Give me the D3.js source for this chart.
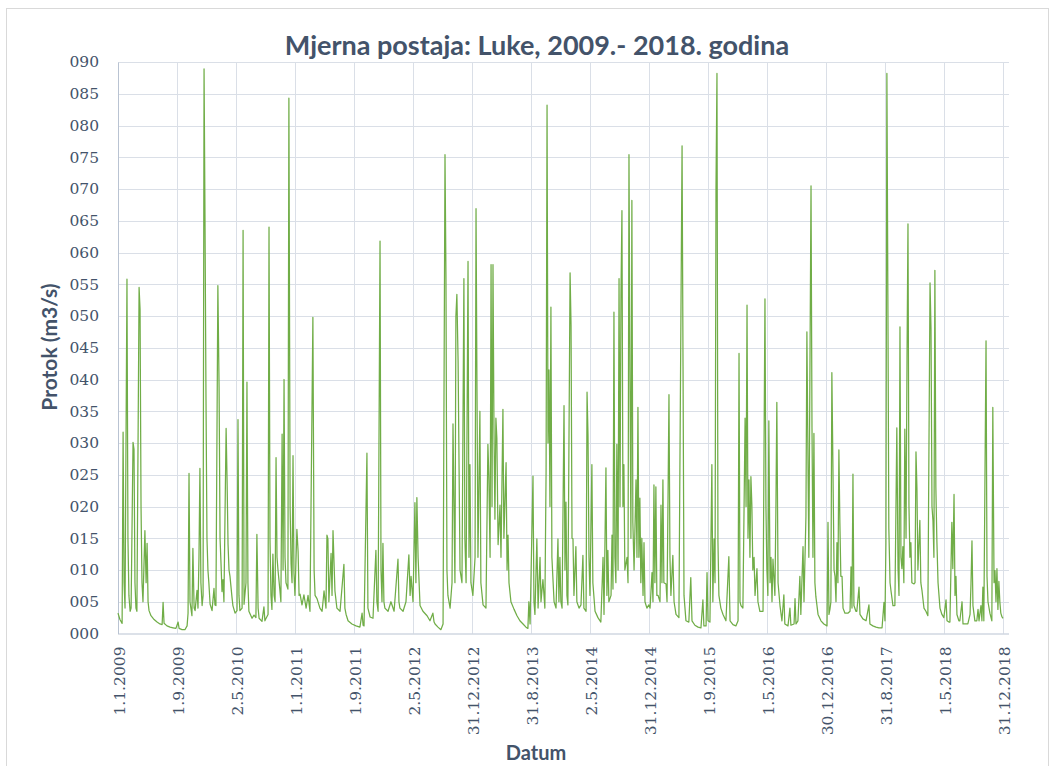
<!DOCTYPE html>
<html><head><meta charset="utf-8">
<script src="https://cdn.jsdelivr.net/npm/d3@7"></script>
<style>
html,body{margin:0;padding:0;background:#fff;}
svg{display:block;}
</style></head><body>
<svg id="chart" width="1055" height="766"></svg>
<script>
// ---- data: [day offset from 1.1.2009, flow m3/s] ----
const startDate = "2009-01-01";
const flow2009 = [[0,3.2],[8,2.2],[17,1.6],[21,31.7],[25,8],[29,4],[37,55.8],[41,15],[45,6],[50,3.5],[54,4],[62,30.1],[66,29],[70,8],[74,4],[78,3.5],[87,54.5],[91,51],[95,20],[99,8],[103,5],[111,16.2],[116,8],[120,14.2],[124,5],[128,3.6],[136,2.8],[149,2.2],[161,1.8],[173,1.5],[182,1.4],[186,4.9],[190,1.6],[202,1.2],[215,1.0],[227,0.9],[239,0.8],[248,1.8],[252,0.8],[264,0.6],[276,0.6],[285,1.2],[289,3.2],[293,25.2],[297,5],[305,2.8],[309,13.4],[314,4],[318,3.6],[326,6.8],[330,4],[334,11.8],[338,26],[342,8],[347,4.4],[351,6],[355,88.9],[359,64.6],[363,37]];
const flow2010 = [[367,15],[371,10],[375,7.9],[380,4.6],[388,3.6],[396,7.1],[400,4.5],[404,4.4],[412,54.8],[417,38.8],[421,15],[425,11],[429,6.6],[433,8.5],[437,5],[446,32.3],[450,24],[454,14],[458,10],[462,9],[470,5.8],[474,4.4],[483,3.2],[491,3.6],[495,33.7],[499,6],[503,3.6],[512,4],[516,63.5],[520,4.6],[528,8],[532,39.6],[536,8],[540,3.5],[553,2.4],[561,2.9],[569,2.5],[573,15.6],[578,4],[582,2.4],[594,1.9],[602,4.2],[606,2],[611,2.4],[619,3],[623,64],[627,15],[631,6],[635,3.8],[639,12.5],[644,6],[648,5],[652,27.7],[656,12],[660,10],[668,6.8],[672,5],[677,31.4],[681,10],[685,40],[689,12],[693,8],[701,7],[705,84.3],[710,20],[714,11],[718,8],[722,28],[726,9.5]];
const flow2011 = [[730,6],[738,16.4],[743,12.9],[747,6],[751,6.2],[759,4.5],[767,6.1],[776,4],[784,6],[792,3.5],[804,49.8],[809,10],[813,6],[821,5.5],[833,4],[842,3.5],[850,6.7],[858,4],[862,15.5],[866,14.9],[870,5],[879,12.6],[883,6],[887,16.2],[895,6.7],[903,4],[916,3.5],[932,10.9],[936,4],[941,3],[949,2],[965,1.5],[982,1.2],[998,1.0],[1007,3.2],[1011,1.3],[1015,1.2],[1027,28.4],[1031,4],[1040,2.6],[1052,2.4],[1064,13.1],[1068,5],[1073,3.5],[1081,61.8],[1085,10],[1089,5],[1093,14.2]];
const flow2012 = [[1097,5],[1101,4],[1114,3.5],[1126,5],[1139,3.5],[1155,11.7],[1159,5],[1163,4],[1176,3.5],[1188,5],[1200,12.4],[1205,6],[1209,9],[1217,5],[1225,20.6],[1229,8],[1233,21.4],[1238,12],[1246,4.4],[1258,3.5],[1275,2.8],[1287,2],[1299,3.2],[1304,1.8],[1308,1.5],[1320,1],[1332,0.6],[1341,1.5],[1349,75.4],[1353,56],[1357,10],[1361,6],[1370,4],[1378,8],[1382,33],[1386,20],[1390,8],[1394,50],[1398,53.4],[1403,43],[1407,26.3],[1411,10],[1419,8],[1427,55.9],[1431,15],[1436,8],[1444,58.6],[1448,12],[1452,26.6],[1456,8]];
const flow2013 = [[1464,6],[1473,12],[1477,66.9],[1481,38],[1485,12],[1493,35],[1497,8],[1506,4.5],[1518,4],[1526,29.8],[1530,24.6],[1535,12],[1539,58.1],[1543,20],[1547,58.1],[1551,32.4],[1555,18],[1559,33.9],[1563,30.7],[1568,14],[1576,20.2],[1580,12],[1588,35.3],[1592,15],[1601,26.9],[1605,10],[1609,15.5],[1613,8],[1621,5],[1634,3.8],[1646,2.8],[1658,2],[1671,1.5],[1683,1],[1691,0.8],[1695,5],[1700,1.5],[1712,24.8],[1716,5],[1720,3],[1728,14.9],[1733,4],[1741,12],[1745,5],[1753,8.5],[1761,4],[1766,25.4],[1770,83.2],[1774,30],[1778,41.5],[1782,20],[1786,51.4],[1790,12],[1799,5],[1807,4],[1815,14.9],[1819,5],[1823,12]];
const flow2014 = [[1827,5],[1832,4],[1840,35.9],[1844,10],[1848,20.7],[1852,6],[1856,4.5],[1865,56.8],[1869,48.5],[1873,15],[1877,14.9],[1881,6],[1889,13.7],[1893,5],[1902,4],[1910,4.5],[1918,12.3],[1922,4],[1931,3.5],[1935,38],[1939,31.2],[1943,12],[1947,6],[1955,26.6],[1959,8],[1968,3.5],[1980,2.5],[1992,1.8],[2001,12],[2005,3],[2013,26.1],[2017,6],[2021,13.1],[2025,5],[2034,6],[2038,15.5],[2042,7],[2046,50.6],[2050,12],[2054,8],[2058,29.8],[2063,10],[2067,55.9],[2071,20],[2075,53.4],[2079,66.6],[2083,20],[2087,26.6],[2091,10],[2100,12],[2104,8],[2108,75.4],[2112,41.5],[2116,15],[2120,68.2],[2124,17.5],[2129,10],[2137,24.2],[2141,12],[2145,35.6],[2149,12],[2153,21.3],[2157,8],[2161,15],[2166,6],[2170,14.3],[2174,5],[2182,4],[2190,4.5]];
const flow2015 = [[2195,4],[2203,9.6],[2207,5],[2211,23.4],[2215,8],[2219,23.1],[2223,6],[2228,6],[2236,5],[2240,20.2],[2244,8],[2248,24.2],[2252,8],[2261,7.8],[2265,5],[2269,21],[2273,37.6],[2277,12],[2281,6],[2289,12.3],[2294,5],[2302,3],[2314,2.5],[2327,76.8],[2331,42],[2335,6],[2343,2],[2355,1.8],[2363,8.8],[2368,2],[2380,1.3],[2393,1.0],[2405,0.9],[2413,5.3],[2417,1.2],[2426,1.2],[2430,9.6],[2434,2],[2442,1.8],[2450,26.6],[2454,5],[2459,14.9],[2463,8],[2467,70.1],[2471,88.2],[2475,14.6],[2479,6],[2487,4],[2496,3],[2508,2],[2520,12.1],[2525,2],[2537,1.4],[2549,1.2]];
const flow2016 = [[2558,2],[2562,44.1],[2566,5],[2570,4.4],[2578,4],[2587,33.9],[2591,20],[2595,51.7],[2599,15],[2603,24.2],[2607,12],[2611,24.7],[2615,20.2],[2619,10],[2624,12],[2628,6],[2636,10.2],[2640,5],[2648,3.5],[2661,3.5],[2669,52.7],[2673,20],[2677,10],[2681,6],[2685,33.5],[2690,8],[2694,12],[2698,5],[2702,11.7],[2710,6],[2714,19.1],[2718,36.4],[2723,8],[2731,4.4],[2739,2],[2747,6.1],[2751,1.5],[2764,1.2],[2772,4],[2776,1.3],[2789,1.5],[2793,5.5],[2797,1.5],[2805,2],[2813,9],[2817,3],[2826,13.7],[2830,5],[2838,18.4],[2842,47.5],[2846,29.2],[2850,12],[2859,70.5],[2863,32.4],[2867,12],[2871,31.5],[2875,8],[2879,5.8],[2888,3],[2900,2],[2912,1.5]];
const flow2017 = [[2925,1.2],[2929,17.5],[2933,3],[2937,3.8],[2941,5],[2945,41.1],[2949,27.5],[2954,10],[2958,9],[2962,5],[2966,14.3],[2970,8],[2974,28.9],[2978,17.5],[2982,9],[2987,9],[2991,4],[2999,3.2],[3011,3.2],[3020,3.5],[3024,10.5],[3028,4],[3032,25.1],[3036,4.4],[3044,3.5],[3048,3.5],[3057,7.3],[3061,3],[3073,2.3],[3086,2],[3098,4.5],[3102,1.5],[3114,1.2],[3127,1.0],[3139,0.9],[3152,0.9],[3160,4.9],[3164,2],[3168,14.3],[3172,88.2],[3176,53.4],[3180,16.6],[3185,8],[3189,6.7],[3197,4.4],[3205,4.4],[3213,32.4],[3218,10.2],[3222,6],[3226,48.3],[3230,12],[3234,10.2],[3238,13.7],[3242,8],[3246,32.2],[3251,15],[3255,43.2],[3259,64.5],[3263,20.2],[3267,12],[3271,14.3],[3275,8],[3284,7.8]];
const flow2018 = [[3288,8],[3292,28.6],[3296,22.8],[3300,10],[3308,17.8],[3312,8],[3317,6.7],[3325,4],[3333,3.5],[3341,2.8],[3350,55.2],[3354,47.9],[3358,20],[3362,17.8],[3366,12],[3370,57.2],[3374,23.1],[3378,14.9],[3383,8],[3391,4],[3399,3],[3407,2.5],[3416,5.3],[3420,2],[3428,1.8],[3432,1.8],[3440,17.5],[3444,10.2],[3449,21.9],[3453,6],[3457,9],[3461,3],[3469,2],[3473,2],[3482,5],[3486,1.5],[3498,1.5],[3506,1.5],[3515,3],[3519,7.9],[3523,14.6],[3527,4.4],[3535,2],[3543,2],[3548,3.8],[3552,2],[3560,4.4],[3564,2],[3568,7.3],[3572,2],[3581,46.1],[3585,9],[3589,5],[3597,3.2],[3605,2],[3609,35.6],[3614,8],[3618,9.9],[3622,5],[3626,10.2],[3630,3.8],[3634,8.2],[3638,5],[3642,3.2],[3647,2.6],[3651,2.4]];

const tickDates  = ["2009-01-01","2009-09-01","2010-05-02","2011-01-01","2011-09-01","2012-05-02","2012-12-31","2013-08-31","2014-05-02","2014-12-31","2015-09-01","2016-05-01","2016-12-30","2017-08-31","2018-05-01","2018-12-31"];
const tickLabels = ["1.1.2009","1.9.2009","2.5.2010","1.1.2011","1.9.2011","2.5.2012","31.12.2012","31.8.2013","2.5.2014","31.12.2014","1.9.2015","1.5.2016","30.12.2016","31.8.2017","1.5.2018","31.12.2018"];
const yTickValues = [0,5,10,15,20,25,30,35,40,45,50,55,60,65,70,75,80,85,90];

const titleText = "Mjerna postaja: Luke, 2009.- 2018. godina";
const yTitle = "Protok (m3/s)";
const xTitle = "Datum";

// ---- drawing ----
const parse = d3.utcParse("%Y-%m-%d");
const t0 = parse(startDate);
const series = [].concat(flow2009, flow2010, flow2011, flow2012, flow2013, flow2014, flow2015, flow2016, flow2017, flow2018)
  .map(([d, v]) => ({date: d3.utcDay.offset(t0, d), value: v}));

const plot = {left: 118, right: 1003, top: 62, bottom: 633.5, gridRight: 1009};
const x = d3.scaleUtc().domain([t0, parse("2018-12-31")]).range([plot.left, plot.right]);
const y = d3.scaleLinear().domain([0, 90]).range([plot.bottom, plot.top]);

const textCol = "#43536a";
const gridCol = "#dadfe7";
const svg = d3.select("#chart");

svg.append("rect").attr("x", 6.5).attr("y", 8.5).attr("width", 1042).attr("height", 780)
  .attr("fill", "#fff").attr("stroke", "#d9d9d9").attr("stroke-width", 1);

// horizontal gridlines
svg.append("g").selectAll("line").data(yTickValues.filter(v => v > 0)).join("line")
  .attr("x1", plot.left).attr("x2", plot.gridRight)
  .attr("y1", d => Math.round(y(d)) + 0.5).attr("y2", d => Math.round(y(d)) + 0.5)
  .attr("stroke", gridCol).attr("stroke-width", 1);

// vertical gridlines
const tickDateObjs = tickDates.map(parse);
svg.append("g").selectAll("line").data(tickDateObjs.slice(1)).join("line")
  .attr("x1", d => Math.round(x(d)) + 0.5).attr("x2", d => Math.round(x(d)) + 0.5)
  .attr("y1", plot.top).attr("y2", plot.bottom)
  .attr("stroke", gridCol).attr("stroke-width", 1);

// y axis
const yAxis = d3.axisLeft(y).tickValues(yTickValues).tickFormat(d3.format("03d")).tickSize(0).tickPadding(19);
const gy = svg.append("g").attr("transform", `translate(${plot.left},0)`).call(yAxis);
gy.select(".domain").attr("stroke", "#b9c3d2");
gy.selectAll("text").attr("fill", textCol).style("font-family", "'DejaVu Serif', serif").style("font-size", "15.5px");

// x axis
const xAxis = d3.axisBottom(x).tickValues(tickDateObjs).tickFormat((d, i) => tickLabels[i]).tickSize(0);
const gx = svg.append("g").attr("transform", `translate(0,${plot.bottom})`).call(xAxis);
gx.select(".domain").attr("d", `M${plot.left},0.5H${plot.gridRight}`).attr("stroke", "#b9c3d2");
gx.selectAll("text")
  .attr("fill", textCol).style("font-family", "'DejaVu Serif', serif").style("font-size", "15.5px")
  .attr("text-anchor", "end").attr("transform", "rotate(-90)")
  .attr("x", -13).attr("y", 0).attr("dy", "0.42em");

// line
const line = d3.line().x(d => x(d.date)).y(d => y(d.value));
svg.append("path").datum(series).attr("d", line)
  .attr("fill", "none").attr("stroke", "#70ad47").attr("stroke-width", 1.25)
  .attr("stroke-linejoin", "round");

// titles
svg.append("text").attr("x", 537).attr("y", 55).attr("text-anchor", "middle")
  .attr("fill", textCol).style("font-family", "Lato, sans-serif").style("font-weight", 700)
  .style("font-size", "27px").text(titleText);
svg.append("text").attr("transform", "translate(57,347) rotate(-90)").attr("text-anchor", "middle")
  .attr("fill", textCol).style("font-family", "Lato, sans-serif").style("font-weight", 700)
  .style("font-size", "21px").text(yTitle);
svg.append("text").attr("x", 536).attr("y", 760).attr("text-anchor", "middle")
  .attr("fill", textCol).style("font-family", "Lato, sans-serif").style("font-weight", 700)
  .style("font-size", "20px").text(xTitle);
</script>
</body></html>
